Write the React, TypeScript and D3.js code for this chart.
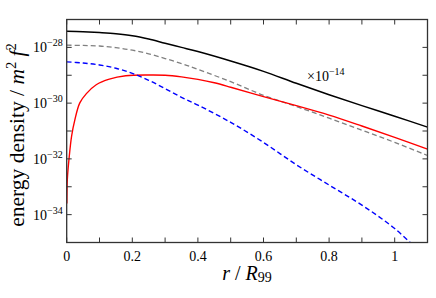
import React from "react";
import * as d3 from "d3";

const W = 436;
const H = 298;
const M = { left: 66.7, right: 8.5, top: 19.5, bottom: 55.5 };

// radius grid (r / R99)
const rGrid = [0, 0.05, 0.1, 0.15, 0.2, 0.25, 0.3, 0.35, 0.4, 0.5, 0.6, 0.7, 0.8, 0.9, 1.0, 1.1];
const blackVals = [3.8e-28, 3.63e-28, 3.39e-28, 3.09e-28, 2.63e-28, 2.0e-28, 1.41e-28, 1.0e-28, 7.08e-29, 3.24e-29, 1.38e-29, 5.13e-30, 2.0e-30, 8.13e-31, 3.39e-31, 1.38e-31];
const grayVals = [1.2e-28, 1.17e-28, 1.12e-28, 9.77e-29, 7.94e-29, 5.89e-29, 3.98e-29, 2.63e-29, 1.62e-29, 5.89e-30, 1.91e-30, 7.59e-31, 2.88e-31, 1.07e-31, 3.89e-32, 1.32e-32];
const blueVals = [3.02e-29, 2.75e-29, 2.34e-29, 1.78e-29, 1.17e-29, 6.61e-30, 3.31e-30, 1.62e-30, 8.51e-31, 2.04e-31, 3.89e-32, 6.17e-33, 1.15e-33, 2.19e-34, 3.16e-35, 2.51e-36];

const rRed = [0.0005, 0.002, 0.007, 0.015, 0.025, 0.04, 0.06, 0.09, 0.13, 0.18, 0.25, 0.3, 0.35, 0.4, 0.45, 0.5, 0.6, 0.7, 0.8, 0.9, 1.0, 1.1];
const redVals = [2.51e-34, 1.91e-33, 9.77e-33, 6.61e-32, 2.57e-31, 1.02e-30, 2.19e-30, 4.57e-30, 7.24e-30, 9.55e-30, 1.02e-29, 1.0e-29, 8.71e-30, 7.08e-30, 5.37e-30, 3.72e-30, 1.7e-30, 8.13e-31, 3.72e-31, 1.51e-31, 5.89e-32, 2.24e-32];

const xTicks = [0, 0.1, 0.2, 0.3, 0.4, 0.5, 0.6, 0.7, 0.8, 0.9, 1.0, 1.1];
const xTickLabels = ["0", "0.2", "0.4", "0.6", "0.8", "1"];
const xLabelVals = [0, 0.2, 0.4, 0.6, 0.8, 1.0];
const yExps = [-35, -34, -33, -32, -31, -30, -29, -28, -27];
const yLabelExps = [-34, -32, -30, -28];

const FONT = "Liberation Serif, Times New Roman, DejaVu Serif, serif";

export default function App() {
  const x = d3.scaleLinear().domain([0, 1.1]).range([M.left, W - M.right]);
  const y = d3.scaleLog().domain([1e-35, 1e-27]).range([H - M.bottom, M.top]);
  const x0 = M.left, x1 = W - M.right, y0 = H - M.bottom, y1 = M.top;

  const line = d3
    .line<[number, number]>()
    .x((d) => x(d[0]))
    .y((d) => y(d[1]))
    .curve(d3.curveCatmullRom.alpha(0.5));

  const zip = (rs: number[], vs: number[]) => rs.map((r, i) => [r, vs[i]] as [number, number]);
  const tickLen = 5;
  const axisColor = "#333";
  const ts: React.CSSProperties = { fontFamily: FONT };

  return (
    <svg width={W} height={H} style={{ position: "absolute", left: 0, top: 0, background: "#fff", fontFamily: FONT }}>
      <defs>
        <clipPath id="plot">
          <rect x={x0} y={y1} width={x1 - x0} height={y0 - y1} />
        </clipPath>
      </defs>
      <g clipPath="url(#plot)" fill="none">
        <path d={line(zip(rGrid, blackVals)) || ""} stroke="#000" strokeWidth={1.5} />
        <path d={line(zip(rGrid, grayVals)) || ""} stroke="#808080" strokeWidth={1.3} strokeDasharray="5,3" />
        <path d={line(zip(rRed, redVals)) || ""} stroke="#ff0000" strokeWidth={1.4} />
        <path d={line(zip(rGrid, blueVals)) || ""} stroke="#0000ff" strokeWidth={1.4} strokeDasharray="5,3" />
      </g>
      {/* ticks */}
      <g stroke={axisColor} strokeWidth={1}>
        {xTicks.map((t) => (
          <g key={"xt" + t}>
            <line x1={x(t)} x2={x(t)} y1={y0} y2={y0 - tickLen} />
            <line x1={x(t)} x2={x(t)} y1={y1} y2={y1 + tickLen} />
          </g>
        ))}
        {yExps.map((e) => (
          <g key={"yt" + e}>
            <line x1={x0} x2={x0 + tickLen} y1={y(Math.pow(10, e))} y2={y(Math.pow(10, e))} />
            <line x1={x1} x2={x1 - tickLen} y1={y(Math.pow(10, e))} y2={y(Math.pow(10, e))} />
          </g>
        ))}
      </g>
      <rect x={x0} y={y1} width={x1 - x0} height={y0 - y1} fill="none" stroke={axisColor} strokeWidth={1.3} />
      {/* x tick labels */}
      {xLabelVals.map((t, i) => (
        <text key={"xl" + t} x={x(t)} y={y0 + 18} textAnchor="middle" fontSize={14} fill="#000" style={ts}>
          {xTickLabels[i]}
        </text>
      ))}
      {/* y tick labels */}
      {yLabelExps.map((e) => (
        <text key={"yl" + e} x={x0 - 4} y={y(Math.pow(10, e)) + 5} textAnchor="end" fontSize={14} fill="#000" style={ts}>
          10<tspan dy={-6} fontSize={10}>{"\u2212" + Math.abs(e)}</tspan>
        </text>
      ))}
      {/* annotation */}
      <text x={307} y={81} fontSize={14} fill="#000" style={ts}>
        ×10<tspan dy={-6} fontSize={10}>{"\u2212" + "14"}</tspan>
      </text>
      {/* x axis label */}
      <text x={247} y={280} textAnchor="middle" fontSize={20} fill="#000" style={ts}>
        <tspan fontStyle="italic">r</tspan>
        <tspan> / </tspan>
        <tspan fontStyle="italic">R</tspan>
        <tspan fontSize={14} dy={2}>99</tspan>
      </text>
      {/* y axis label */}
      <text transform={`translate(24, 135) rotate(-90)`} textAnchor="middle" fontSize={21.5} fill="#000" style={ts}>
        energy density / <tspan fontStyle="italic">m</tspan>
        <tspan fontSize={14.5} dy={-8}>2</tspan>
        <tspan dy={8}> </tspan>
        <tspan fontStyle="italic">f</tspan>
        <tspan fontSize={14.5} dy={-8}>2</tspan>
      </text>
    </svg>
  );
}
